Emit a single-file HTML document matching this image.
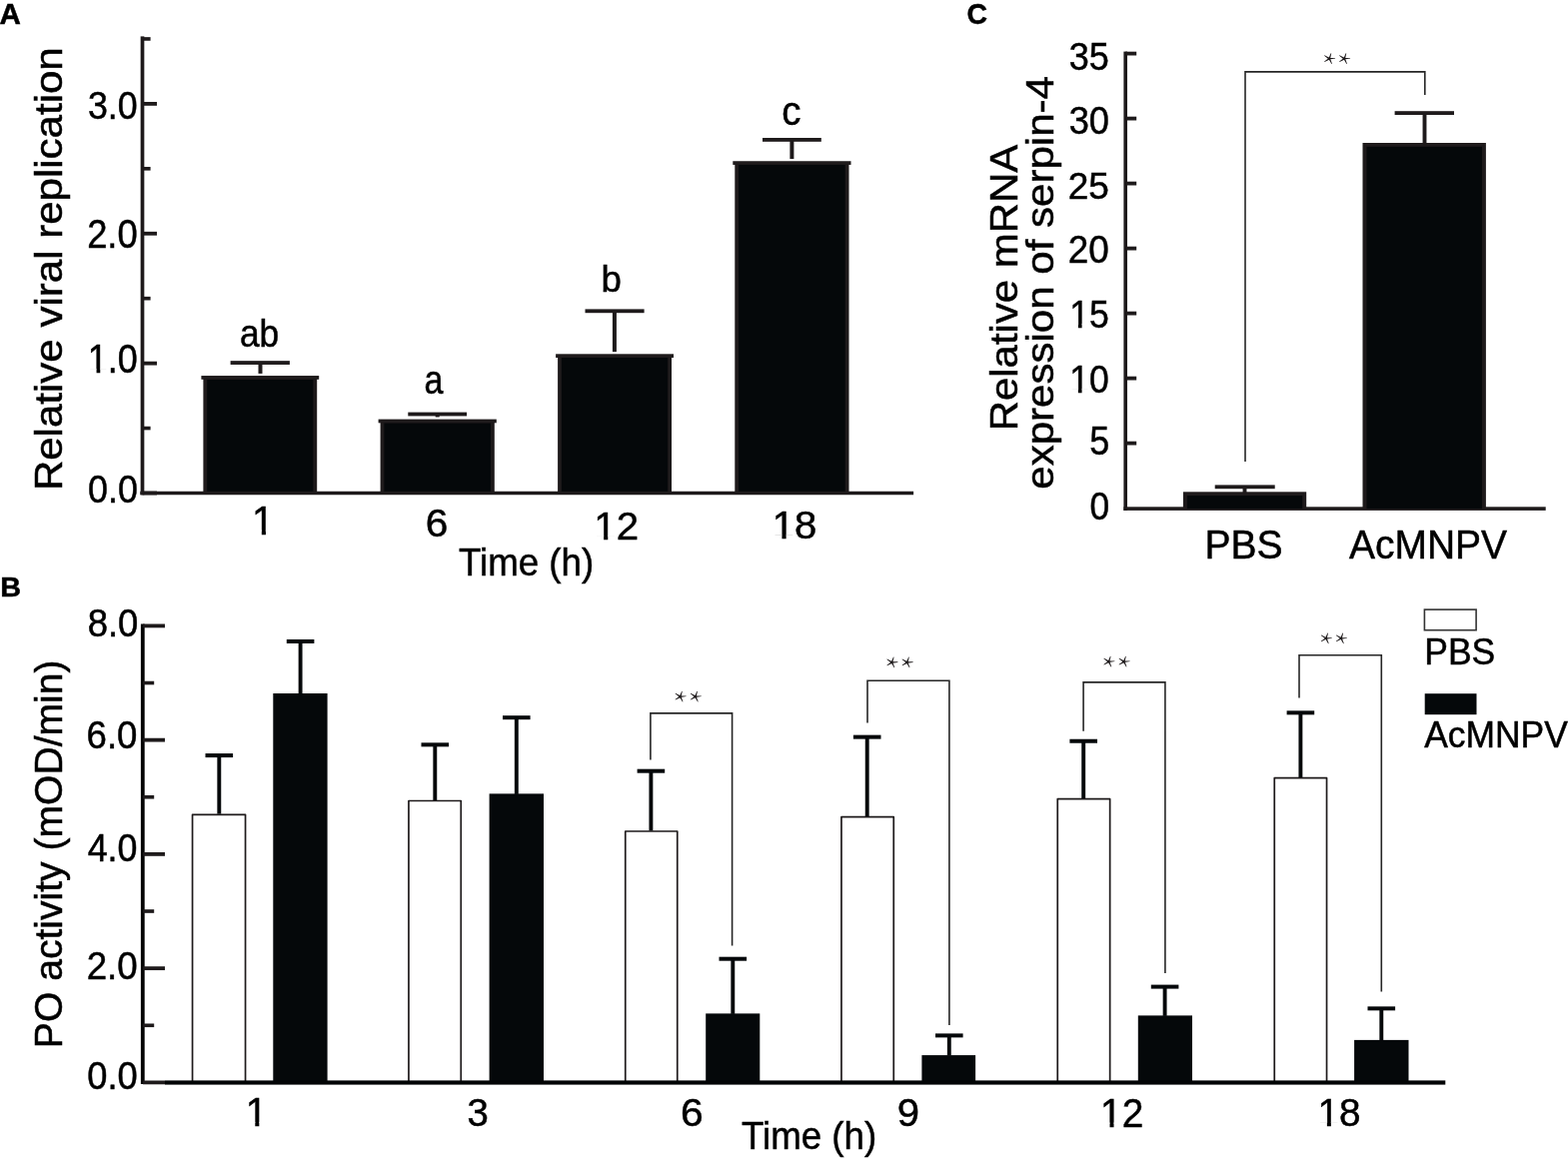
<!DOCTYPE html>
<html><head><meta charset="utf-8"><title>Figure</title>
<style>
html,body{margin:0;padding:0;background:#fff;overflow:hidden;}
body{width:1569px;height:1159px;overflow:hidden;}
svg{display:block;}
text{font-family:"Liberation Sans",Arial,Helvetica,sans-serif;fill:#000000;stroke:#000000;stroke-width:0.5px;}
</style></head>
<body>
<svg width="1569" height="1159" viewBox="0 0 1569 1159">
<defs><mask id="m1" maskUnits="userSpaceOnUse" x="-500" y="-500" width="2000" height="1000"><rect x="-500" y="-500" width="2000" height="1000" fill="#fff"/><rect x="0.78" y="-4.08" width="8.94" height="6.48" fill="#000"/><rect x="13.85" y="-4.08" width="8.54" height="6.48" fill="#000"/></mask><mask id="m2" maskUnits="userSpaceOnUse" x="-500" y="-500" width="2000" height="1000"><rect x="-500" y="-500" width="2000" height="1000" fill="#fff"/><rect x="0.81" y="-4.19" width="9.28" height="6.59" fill="#000"/><rect x="14.34" y="-4.19" width="8.86" height="6.59" fill="#000"/></mask><mask id="m3" maskUnits="userSpaceOnUse" x="-500" y="-500" width="2000" height="1000"><rect x="-500" y="-500" width="2000" height="1000" fill="#fff"/><rect x="0.77" y="-4.05" width="8.84" height="6.45" fill="#000"/><rect x="13.70" y="-4.05" width="8.44" height="6.45" fill="#000"/></mask><mask id="m4" maskUnits="userSpaceOnUse" x="-500" y="-500" width="2000" height="1000"><rect x="-500" y="-500" width="2000" height="1000" fill="#fff"/><rect x="0.75" y="-3.97" width="8.62" height="6.37" fill="#000"/><rect x="13.37" y="-3.97" width="8.23" height="6.37" fill="#000"/></mask><mask id="m5" maskUnits="userSpaceOnUse" x="-500" y="-500" width="2000" height="1000"><rect x="-500" y="-500" width="2000" height="1000" fill="#fff"/><rect x="0.76" y="-4.02" width="8.78" height="6.42" fill="#000"/><rect x="13.60" y="-4.02" width="8.38" height="6.42" fill="#000"/></mask><mask id="m6" maskUnits="userSpaceOnUse" x="-500" y="-500" width="2000" height="1000"><rect x="-500" y="-500" width="2000" height="1000" fill="#fff"/><rect x="0.75" y="-3.98" width="8.65" height="6.38" fill="#000"/><rect x="13.42" y="-3.98" width="8.25" height="6.38" fill="#000"/></mask><mask id="m7" maskUnits="userSpaceOnUse" x="-500" y="-500" width="2000" height="1000"><rect x="-500" y="-500" width="2000" height="1000" fill="#fff"/><rect x="0.79" y="-4.12" width="9.08" height="6.52" fill="#000"/><rect x="14.04" y="-4.12" width="8.66" height="6.52" fill="#000"/></mask><mask id="m8" maskUnits="userSpaceOnUse" x="-500" y="-500" width="2000" height="1000"><rect x="-500" y="-500" width="2000" height="1000" fill="#fff"/><rect x="0.79" y="-4.11" width="9.04" height="6.51" fill="#000"/><rect x="13.99" y="-4.11" width="8.63" height="6.51" fill="#000"/></mask><mask id="m9" maskUnits="userSpaceOnUse" x="-500" y="-500" width="2000" height="1000"><rect x="-500" y="-500" width="2000" height="1000" fill="#fff"/><rect x="0.77" y="-4.05" width="8.85" height="6.45" fill="#000"/><rect x="13.70" y="-4.05" width="8.44" height="6.45" fill="#000"/></mask></defs>
<rect width="1569" height="1159" fill="#fff"/>
<text transform="translate(-0.49,23.51) scale(1.0193,1)" font-size="28.99" font-weight="bold">A</text>
<rect x="140.65" y="36.40" width="3.70" height="458.90" fill="#1e1a1b"/>
<rect x="142.50" y="101.99" width="14.50" height="3.80" fill="#1e1a1b"/>
<rect x="142.50" y="231.86" width="14.50" height="3.80" fill="#1e1a1b"/>
<rect x="142.50" y="361.73" width="14.50" height="3.80" fill="#1e1a1b"/>
<rect x="142.50" y="491.60" width="14.50" height="3.80" fill="#1e1a1b"/>
<rect x="142.50" y="37.15" width="8.10" height="3.60" fill="#1e1a1b"/>
<rect x="142.50" y="167.02" width="8.10" height="3.60" fill="#1e1a1b"/>
<rect x="142.50" y="296.89" width="8.10" height="3.60" fill="#1e1a1b"/>
<rect x="142.50" y="426.76" width="8.10" height="3.60" fill="#1e1a1b"/>
<text transform="translate(87.92,118.85) scale(0.8999,1)" font-size="39.72">3.0</text>
<text transform="translate(87.13,248.15) scale(0.9036,1)" font-size="40.28">2.0</text>
<text transform="translate(87.80,373.25) scale(0.9008,1)" font-size="39.86" mask="url(#m1)">1.0</text>
<text transform="translate(88.10,502.85) scale(0.9022,1)" font-size="39.72">0.0</text>
<rect x="203.40" y="377.90" width="113.80" height="115.60" fill="#1e1a1b"/>
<rect x="207.20" y="379.80" width="106.20" height="113.70" fill="#05080a"/>
<rect x="201.40" y="376.05" width="117.80" height="3.70" fill="#1e1a1b"/>
<rect x="380.60" y="421.45" width="114.20" height="72.05" fill="#1e1a1b"/>
<rect x="384.40" y="423.35" width="106.60" height="70.15" fill="#05080a"/>
<rect x="378.60" y="419.60" width="118.20" height="3.70" fill="#1e1a1b"/>
<rect x="558.10" y="356.15" width="113.90" height="137.35" fill="#1e1a1b"/>
<rect x="561.90" y="358.05" width="106.30" height="135.45" fill="#05080a"/>
<rect x="556.10" y="354.30" width="117.90" height="3.70" fill="#1e1a1b"/>
<rect x="735.30" y="163.10" width="114.20" height="330.40" fill="#1e1a1b"/>
<rect x="739.10" y="165.00" width="106.60" height="328.50" fill="#05080a"/>
<rect x="733.30" y="161.25" width="118.20" height="3.70" fill="#1e1a1b"/>
<rect x="140.30" y="491.75" width="773.80" height="3.50" fill="#1e1a1b"/>
<rect x="258.50" y="363.05" width="4.00" height="10.85" fill="#1e1a1b"/>
<rect x="230.60" y="361.15" width="59.30" height="3.80" fill="#1e1a1b"/>
<rect x="435.70" y="414.50" width="4.00" height="2.95" fill="#1e1a1b"/>
<rect x="408.30" y="412.60" width="58.80" height="3.80" fill="#1e1a1b"/>
<rect x="612.90" y="311.30" width="4.00" height="40.85" fill="#1e1a1b"/>
<rect x="585.50" y="309.40" width="59.10" height="3.80" fill="#1e1a1b"/>
<rect x="790.40" y="139.90" width="4.00" height="19.20" fill="#1e1a1b"/>
<rect x="763.00" y="138.00" width="58.80" height="3.80" fill="#1e1a1b"/>
<text transform="translate(239.94,347.17) scale(0.9211,1)" font-size="38.37">ab</text>
<text transform="translate(424.39,394.25) scale(0.8510,1)" font-size="40.00">a</text>
<text transform="translate(601.57,292.38) scale(0.9800,1)" font-size="37.41">b</text>
<text transform="translate(782.31,124.75) scale(0.9598,1)" font-size="40.00">c</text>
<text transform="translate(252.03,534.65) scale(0.9700,1)" font-size="41.30" mask="url(#m2)">1</text>
<text transform="translate(425.82,537.15) scale(1.0233,1)" font-size="39.72">6</text>
<text transform="translate(594.28,540.15) scale(1.0210,1)" font-size="39.43" mask="url(#m3)">12</text>
<text transform="translate(772.70,539.37) scale(1.0413,1)" font-size="38.46" mask="url(#m4)">18</text>
<text transform="translate(458.92,576.08) scale(0.9417,1)" font-size="39.00">Time (h)</text>
<text transform="translate(61.95,491.11) rotate(-90) scale(1.0978,1)" font-size="38.30">Relative viral replication</text>
<text transform="translate(967.41,23.96) scale(0.9693,1)" font-size="29.30" font-weight="bold">C</text>
<rect x="1124.40" y="51.60" width="3.60" height="459.40" fill="#1e1a1b"/>
<rect x="1126.20" y="441.70" width="11.00" height="3.80" fill="#1e1a1b"/>
<rect x="1126.20" y="376.70" width="11.00" height="3.80" fill="#1e1a1b"/>
<rect x="1126.20" y="311.70" width="11.00" height="3.80" fill="#1e1a1b"/>
<rect x="1126.20" y="246.70" width="11.00" height="3.80" fill="#1e1a1b"/>
<rect x="1126.20" y="181.70" width="11.00" height="3.80" fill="#1e1a1b"/>
<rect x="1126.20" y="116.70" width="11.00" height="3.80" fill="#1e1a1b"/>
<rect x="1126.20" y="51.70" width="11.00" height="3.80" fill="#1e1a1b"/>
<rect x="1124.40" y="507.30" width="422.30" height="3.60" fill="#1e1a1b"/>
<text transform="translate(1069.71,70.06) scale(0.9300,1)" font-size="38.73">35</text>
<text transform="translate(1069.70,134.26) scale(0.9389,1)" font-size="38.59">30</text>
<text transform="translate(1068.70,198.68) scale(0.9967,1)" font-size="37.18">25</text>
<text transform="translate(1068.71,262.86) scale(0.9521,1)" font-size="38.73">20</text>
<text transform="translate(1070.22,327.96) scale(0.9103,1)" font-size="39.14" mask="url(#m5)">15</text>
<text transform="translate(1070.24,393.16) scale(0.9186,1)" font-size="38.59" mask="url(#m6)">10</text>
<text transform="translate(1090.21,455.34) scale(0.8811,1)" font-size="40.86">5</text>
<text transform="translate(1090.42,520.36) scale(0.9136,1)" font-size="38.59">0</text>
<rect x="1183.90" y="492.30" width="123.30" height="16.80" fill="#1e1a1b"/>
<rect x="1187.90" y="496.10" width="115.30" height="13.00" fill="#05080a"/>
<rect x="1363.50" y="143.00" width="123.40" height="366.10" fill="#1e1a1b"/>
<rect x="1367.50" y="146.80" width="115.40" height="362.30" fill="#05080a"/>
<rect x="1243.55" y="487.30" width="3.90" height="5.90" fill="#1e1a1b"/>
<rect x="1215.70" y="485.40" width="60.00" height="3.80" fill="#1e1a1b"/>
<rect x="1423.55" y="113.10" width="3.90" height="30.80" fill="#1e1a1b"/>
<rect x="1395.60" y="111.20" width="59.40" height="3.80" fill="#1e1a1b"/>
<path d="M1246,462V71.9H1425.8V94.9" stroke="#262626" stroke-width="1.6" fill="none"/>
<path d="M1330.26,59.55L1336.11,58.59L1336.06,57.99L1330.14,57.85ZM1331.01,58.97L1332.25,53.48L1331.68,53.29L1329.39,58.43ZM1330.66,57.99L1325.42,55.24L1325.09,55.74L1329.74,59.41ZM1329.75,57.98L1325.12,61.52L1325.44,62.03L1330.65,59.42ZM1329.43,59.06L1332.41,64.07L1332.95,63.82L1330.97,58.34Z" fill="#1e1a1b"/>
<circle cx="1330.20" cy="58.70" r="0.95" fill="#1e1a1b"/>
<path d="M1345.26,59.55L1351.11,58.59L1351.06,57.99L1345.14,57.85ZM1346.01,58.97L1347.25,53.48L1346.68,53.29L1344.39,58.43ZM1345.66,57.99L1340.42,55.24L1340.09,55.74L1344.74,59.41ZM1344.75,57.98L1340.12,61.52L1340.44,62.03L1345.65,59.42ZM1344.43,59.06L1347.41,64.07L1347.95,63.82L1345.97,58.34Z" fill="#1e1a1b"/>
<circle cx="1345.20" cy="58.70" r="0.95" fill="#1e1a1b"/>
<text transform="translate(1205.53,559.15) scale(0.9732,1)" font-size="40.12">PBS</text>
<text transform="translate(1349.96,559.15) scale(0.9478,1)" font-size="41.13">AcMNPV</text>
<text transform="translate(1018.15,431.31) rotate(-90) scale(1.0865,1)" font-size="38.60">Relative mRNA</text>
<text transform="translate(1054.35,489.73) rotate(-90) scale(1.0896,1)" font-size="38.60">expression of serpin-4</text>
<text transform="translate(0.28,597.45) scale(1.0132,1)" font-size="28.41" font-weight="bold">B</text>
<rect x="140.90" y="624.50" width="3.80" height="460.50" fill="#030303"/>
<rect x="143.10" y="624.50" width="21.90" height="3.80" fill="#1e1a1b"/>
<rect x="143.10" y="738.75" width="21.90" height="3.80" fill="#1e1a1b"/>
<rect x="143.10" y="853.00" width="21.90" height="3.80" fill="#1e1a1b"/>
<rect x="143.10" y="967.25" width="21.90" height="3.80" fill="#1e1a1b"/>
<rect x="143.10" y="1081.50" width="21.90" height="3.80" fill="#1e1a1b"/>
<rect x="143.10" y="681.73" width="11.10" height="3.60" fill="#1e1a1b"/>
<rect x="143.10" y="795.98" width="11.10" height="3.60" fill="#1e1a1b"/>
<rect x="143.10" y="910.23" width="11.10" height="3.60" fill="#1e1a1b"/>
<rect x="143.10" y="1024.48" width="11.10" height="3.60" fill="#1e1a1b"/>
<text transform="translate(87.69,637.27) scale(0.9575,1)" font-size="38.04">8.0</text>
<text transform="translate(86.52,749.36) scale(0.9321,1)" font-size="39.30">6.0</text>
<text transform="translate(87.63,862.37) scale(0.9415,1)" font-size="38.03">4.0</text>
<text transform="translate(86.71,979.67) scale(0.9546,1)" font-size="38.45">2.0</text>
<text transform="translate(87.28,1090.37) scale(0.9438,1)" font-size="38.45">0.0</text>
<rect x="192.55" y="815.40" width="53.00" height="268.80" fill="#fff" stroke="#1e1a1b" stroke-width="1.7" stroke-linejoin="round"/>
<rect x="408.95" y="801.50" width="52.30" height="282.70" fill="#fff" stroke="#1e1a1b" stroke-width="1.7" stroke-linejoin="round"/>
<rect x="625.75" y="832.00" width="52.00" height="252.20" fill="#fff" stroke="#1e1a1b" stroke-width="1.7" stroke-linejoin="round"/>
<rect x="841.95" y="817.70" width="52.30" height="266.50" fill="#fff" stroke="#1e1a1b" stroke-width="1.7" stroke-linejoin="round"/>
<rect x="1058.25" y="799.70" width="52.40" height="284.50" fill="#fff" stroke="#1e1a1b" stroke-width="1.7" stroke-linejoin="round"/>
<rect x="1275.25" y="778.70" width="52.30" height="305.50" fill="#fff" stroke="#1e1a1b" stroke-width="1.7" stroke-linejoin="round"/>
<rect x="273.30" y="694.00" width="54.30" height="389.40" fill="#05080a"/>
<rect x="489.60" y="794.40" width="54.40" height="289.00" fill="#05080a"/>
<rect x="706.20" y="1014.40" width="54.10" height="69.00" fill="#05080a"/>
<rect x="922.40" y="1056.10" width="53.70" height="27.30" fill="#05080a"/>
<rect x="1138.80" y="1016.40" width="54.20" height="67.00" fill="#05080a"/>
<rect x="1355.10" y="1040.90" width="54.40" height="42.50" fill="#05080a"/>
<rect x="165.00" y="1081.40" width="1281.30" height="4.20" fill="#020405"/>
<rect x="217.35" y="756.10" width="3.90" height="58.60" fill="#05080a"/>
<rect x="205.50" y="754.10" width="27.60" height="4.00" fill="#05080a"/>
<rect x="298.65" y="641.95" width="3.90" height="52.55" fill="#05080a"/>
<rect x="286.80" y="639.95" width="27.60" height="4.00" fill="#05080a"/>
<rect x="433.35" y="745.35" width="3.90" height="55.65" fill="#05080a"/>
<rect x="421.50" y="743.35" width="27.60" height="4.00" fill="#05080a"/>
<rect x="514.85" y="718.20" width="3.90" height="76.70" fill="#05080a"/>
<rect x="503.00" y="716.20" width="27.60" height="4.00" fill="#05080a"/>
<rect x="649.45" y="771.70" width="3.90" height="59.80" fill="#05080a"/>
<rect x="637.60" y="769.70" width="27.60" height="4.00" fill="#05080a"/>
<rect x="731.35" y="959.70" width="3.90" height="55.20" fill="#05080a"/>
<rect x="719.50" y="957.70" width="27.60" height="4.00" fill="#05080a"/>
<rect x="865.75" y="737.65" width="3.90" height="79.55" fill="#05080a"/>
<rect x="853.90" y="735.65" width="27.60" height="4.00" fill="#05080a"/>
<rect x="947.85" y="1036.40" width="3.90" height="20.20" fill="#05080a"/>
<rect x="936.00" y="1034.40" width="27.60" height="4.00" fill="#05080a"/>
<rect x="1082.25" y="741.75" width="3.90" height="57.45" fill="#05080a"/>
<rect x="1070.40" y="739.75" width="27.60" height="4.00" fill="#05080a"/>
<rect x="1163.65" y="987.60" width="3.90" height="29.30" fill="#05080a"/>
<rect x="1151.80" y="985.60" width="27.60" height="4.00" fill="#05080a"/>
<rect x="1299.45" y="713.35" width="3.90" height="64.85" fill="#05080a"/>
<rect x="1287.60" y="711.35" width="27.60" height="4.00" fill="#05080a"/>
<rect x="1380.35" y="1009.35" width="3.90" height="32.05" fill="#05080a"/>
<rect x="1368.50" y="1007.35" width="27.60" height="4.00" fill="#05080a"/>
<path d="M650.9,760.5V713.9H732.6V946.5" stroke="#262626" stroke-width="1.6" fill="none"/>
<path d="M868.0,723.6V681.2H949.9V1026.0" stroke="#262626" stroke-width="1.6" fill="none"/>
<path d="M1084.1,731.8V682.9H1165.9V973.9" stroke="#262626" stroke-width="1.6" fill="none"/>
<path d="M1300.0,698.5V655.7H1382.3V992.6" stroke="#262626" stroke-width="1.6" fill="none"/>
<path d="M680.76,698.05L686.61,697.09L686.56,696.49L680.64,696.35ZM681.51,697.47L682.75,691.98L682.18,691.79L679.89,696.93ZM681.16,696.49L675.92,693.74L675.59,694.24L680.24,697.91ZM680.25,696.48L675.62,700.02L675.94,700.53L681.15,697.92ZM679.93,697.56L682.91,702.57L683.45,702.32L681.47,696.84Z" fill="#1e1a1b"/>
<circle cx="680.70" cy="697.20" r="0.95" fill="#1e1a1b"/>
<path d="M695.96,698.05L701.81,697.09L701.76,696.49L695.84,696.35ZM696.71,697.47L697.95,691.98L697.38,691.79L695.09,696.93ZM696.36,696.49L691.12,693.74L690.79,694.24L695.44,697.91ZM695.45,696.48L690.82,700.02L691.14,700.53L696.35,697.92ZM695.13,697.56L698.11,702.57L698.65,702.32L696.67,696.84Z" fill="#1e1a1b"/>
<circle cx="695.90" cy="697.20" r="0.95" fill="#1e1a1b"/>
<path d="M892.56,663.85L898.41,662.89L898.36,662.29L892.44,662.15ZM893.31,663.27L894.55,657.78L893.98,657.59L891.69,662.73ZM892.96,662.29L887.72,659.54L887.39,660.04L892.04,663.71ZM892.05,662.28L887.42,665.82L887.74,666.33L892.95,663.72ZM891.73,663.36L894.71,668.37L895.25,668.12L893.27,662.64Z" fill="#1e1a1b"/>
<circle cx="892.50" cy="663.00" r="0.95" fill="#1e1a1b"/>
<path d="M907.76,663.85L913.61,662.89L913.56,662.29L907.64,662.15ZM908.51,663.27L909.75,657.78L909.18,657.59L906.89,662.73ZM908.16,662.29L902.92,659.54L902.59,660.04L907.24,663.71ZM907.25,662.28L902.62,665.82L902.94,666.33L908.15,663.72ZM906.93,663.36L909.91,668.37L910.45,668.12L908.47,662.64Z" fill="#1e1a1b"/>
<circle cx="907.70" cy="663.00" r="0.95" fill="#1e1a1b"/>
<path d="M1109.56,663.05L1115.41,662.09L1115.36,661.49L1109.44,661.35ZM1110.31,662.47L1111.55,656.98L1110.98,656.79L1108.69,661.93ZM1109.96,661.49L1104.72,658.74L1104.39,659.24L1109.04,662.91ZM1109.05,661.48L1104.42,665.02L1104.74,665.53L1109.95,662.92ZM1108.73,662.56L1111.71,667.57L1112.25,667.32L1110.27,661.84Z" fill="#1e1a1b"/>
<circle cx="1109.50" cy="662.20" r="0.95" fill="#1e1a1b"/>
<path d="M1124.76,663.05L1130.61,662.09L1130.56,661.49L1124.64,661.35ZM1125.51,662.47L1126.75,656.98L1126.18,656.79L1123.89,661.93ZM1125.16,661.49L1119.92,658.74L1119.59,659.24L1124.24,662.91ZM1124.25,661.48L1119.62,665.02L1119.94,665.53L1125.15,662.92ZM1123.93,662.56L1126.91,667.57L1127.45,667.32L1125.47,661.84Z" fill="#1e1a1b"/>
<circle cx="1124.70" cy="662.20" r="0.95" fill="#1e1a1b"/>
<path d="M1326.96,639.75L1332.81,638.79L1332.76,638.19L1326.84,638.05ZM1327.71,639.17L1328.95,633.68L1328.38,633.49L1326.09,638.63ZM1327.36,638.19L1322.12,635.44L1321.79,635.94L1326.44,639.61ZM1326.45,638.18L1321.82,641.72L1322.14,642.23L1327.35,639.62ZM1326.13,639.26L1329.11,644.27L1329.65,644.02L1327.67,638.54Z" fill="#1e1a1b"/>
<circle cx="1326.90" cy="638.90" r="0.95" fill="#1e1a1b"/>
<path d="M1342.06,639.75L1347.91,638.79L1347.86,638.19L1341.94,638.05ZM1342.81,639.17L1344.05,633.68L1343.48,633.49L1341.19,638.63ZM1342.46,638.19L1337.22,635.44L1336.89,635.94L1341.54,639.61ZM1341.55,638.18L1336.92,641.72L1337.24,642.23L1342.45,639.62ZM1341.23,639.26L1344.21,644.27L1344.75,644.02L1342.77,638.54Z" fill="#1e1a1b"/>
<circle cx="1342.00" cy="638.90" r="0.95" fill="#1e1a1b"/>
<text transform="translate(245.72,1127.05) scale(0.9700,1)" font-size="40.43" mask="url(#m7)">1</text>
<text transform="translate(467.42,1127.25) scale(0.9647,1)" font-size="39.72">3</text>
<text transform="translate(681.01,1127.25) scale(1.0288,1)" font-size="39.72">6</text>
<text transform="translate(897.65,1127.25) scale(1.0071,1)" font-size="39.72">9</text>
<text transform="translate(1101.01,1127.65) scale(0.9659,1)" font-size="40.29" mask="url(#m8)">12</text>
<text transform="translate(1318.43,1127.26) scale(0.9816,1)" font-size="39.44" mask="url(#m9)">18</text>
<text transform="translate(741.92,1149.93) scale(0.9298,1)" font-size="39.50">Time (h)</text>
<text transform="translate(62.05,1049.18) rotate(-90) scale(1.0207,1)" font-size="38.30">PO activity (mOD/min)</text>
<rect x="1425.40" y="610.10" width="51.70" height="20.60" fill="#fff" stroke="#333" stroke-width="1.6"/>
<rect x="1425.70" y="694.20" width="51.80" height="21.00" fill="#05080a"/>
<text transform="translate(1425.31,665.05) scale(0.9800,1)" font-size="36.19">PBS</text>
<text transform="translate(1425.17,748.05) scale(0.9789,1)" font-size="36.19">AcMNPV</text>
</svg>
</body></html>
